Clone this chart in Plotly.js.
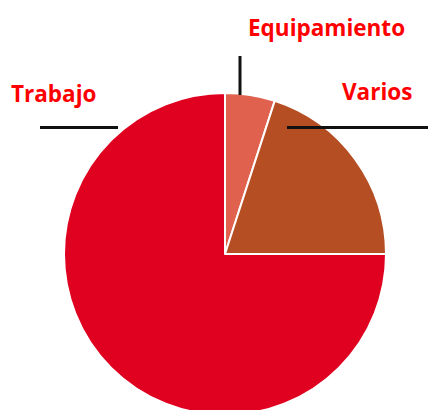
<!DOCTYPE html>
<html><head><meta charset="utf-8">
<script src="https://cdn.plot.ly/plotly-3.0.1.min.js"></script>
<style>html,body{margin:0;padding:0;overflow:hidden;background:#fff}#c{width:428px;height:415px}</style>
</head><body><div id="c"></div>
<script>
const categories = ["Equipamiento", "Varios", "Trabajo"];
const values = [5, 20, 75];
const colors = ["#E0624E", "#B54E22", "#E0001F"];

const W = 428, H = 415;
const px = x => x / W, py = y => 1 - y / H;
const labelPos = {Trabajo: [9, 93], Equipamiento: [246, 27], Varios: [340, 92]};
const annotations = categories.map(c => ({
  text: "<b>" + c + "</b>", xref: "paper", yref: "paper",
  x: px(labelPos[c][0]), y: py(labelPos[c][1]), xanchor: "left", yanchor: "middle",
  showarrow: false, font: {family: "Open Sans, sans-serif", size: 22.5, color: "#FF0000"}
}));
const line = (x0, y0, x1, y1) => ({type: "line", xref: "paper", yref: "paper",
  x0: px(x0), y0: py(y0), x1: px(x1), y1: py(y1), line: {color: "#111", width: 3}});

Plotly.newPlot("c", [{
  type: "pie", labels: categories, values: values, sort: false,
  direction: "clockwise", rotation: 0, textinfo: "none", hoverinfo: "none",
  marker: {colors: colors, line: {color: "#ffffff", width: 2}},
  domain: {x: [64 / W, 386 / W], y: [0, 322 / H]}
}], {
  width: W, height: H, margin: {l: 0, r: 0, t: 0, b: 0}, showlegend: false,
  paper_bgcolor: "#fff", annotations: annotations,
  shapes: [line(40, 127.5, 118, 127.5), line(240, 56, 240, 95), line(287, 127.5, 428, 127.5)]
}, {staticPlot: true});
</script></body></html>
